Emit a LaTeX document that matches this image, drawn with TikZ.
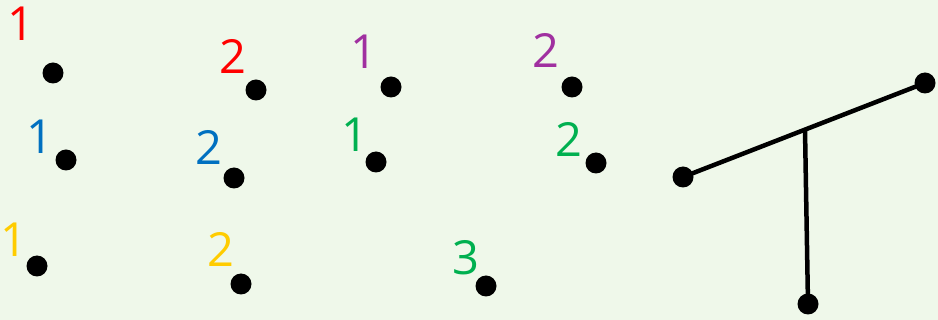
\documentclass[tikz,border=0pt]{standalone}
\usepackage{fontspec}
\setmainfont{Open Sans}
\definecolor{bg}{RGB}{239,248,234}
\definecolor{cred}{RGB}{255,0,0}
\definecolor{cblue}{RGB}{0,112,192}
\definecolor{cpurple}{RGB}{160,48,160}
\definecolor{cgreen}{RGB}{0,176,80}
\definecolor{cyellow}{RGB}{255,204,0}
\tikzset{
  dot/.style={circle,fill=black,inner sep=0pt,minimum size=21pt},
  lbl/.style={inner sep=0pt,font=\fontsize{47}{47}\selectfont},
  bar/.style={line width=4.5pt,black}
}
\begin{document}
\begin{tikzpicture}[x=1pt,y=-1pt]
\fill[bg] (0,0) rectangle (938,320);
\useasboundingbox (0,0) rectangle (938,320);
% dots
\node[dot] (d1) at (53,73) {};
\node[dot] (d2) at (256,90) {};
\node[dot] (d3) at (391,87) {};
\node[dot] (d4) at (572,87) {};
\node[dot] (d5) at (66,160) {};
\node[dot] (d6) at (234,178) {};
\node[dot] (d7) at (376,162) {};
\node[dot] (d8) at (596,163) {};
\node[dot] (d9) at (37,266) {};
\node[dot] (d10) at (241,284) {};
\node[dot] (d11) at (486,286) {};
% labels
\node[lbl,text=cred] (l1) at (21,24) {1};
\node[lbl,text=cred] (l2) at (233,56) {2};
\node[lbl,text=cpurple] (l3) at (364,52) {1};
\node[lbl,text=cpurple] (l4) at (546,50) {2};
\node[lbl,text=cblue] (l5) at (40,137) {1};
\node[lbl,text=cblue] (l6) at (209,147) {2};
\node[lbl,text=cgreen] (l7) at (355,135) {1};
\node[lbl,text=cgreen] (l8) at (569,139) {2};
\node[lbl,text=cyellow] (l9) at (14,240) {1};
\node[lbl,text=cyellow] (l10) at (221,249) {2};
\node[lbl,text=cgreen] (l11) at (466,258) {3};
% T figure
\node[dot] (ta) at (683,177) {};
\node[dot] (tb) at (925,83) {};
\node[dot] (tc) at (808,304) {};
\coordinate (tj) at (805,129.5);
\draw[bar] (ta.center) -- (tb.center);
\draw[bar] (tj) -- (tc.center);
\end{tikzpicture}
\end{document}
